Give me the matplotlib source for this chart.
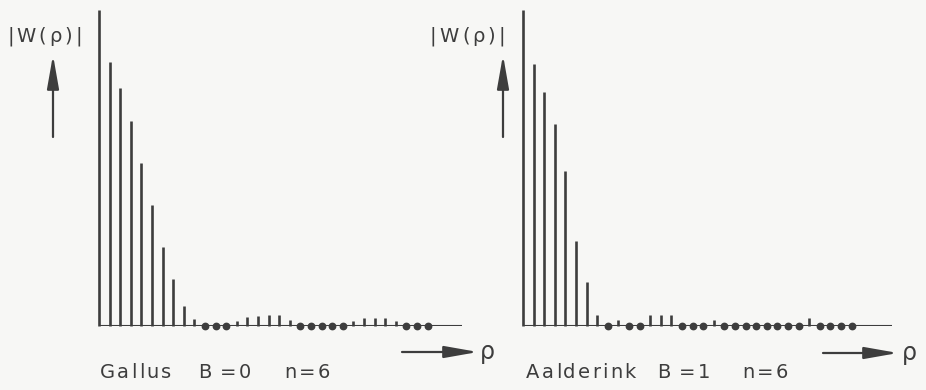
import matplotlib

matplotlib.use("Agg")
import matplotlib.pyplot as plt  # noqa: E402
import numpy as np  # noqa: E402

W_PX, H_PX = 926, 390
INK = "#3d3d3d"
PAPER = "#f7f7f5"

# |W(rho)| for rho = 0..31, normalised to W(0) = 1; zeros are shown as dots
gallus = [
    1.0, 0.835, 0.753, 0.649, 0.516, 0.383, 0.25, 0.149, 0.063, 0.022,
    0.0, 0.0, 0.0, 0.016, 0.028, 0.032, 0.035, 0.035, 0.019, 0.0,
    0.0, 0.0, 0.0, 0.0, 0.016, 0.025, 0.025, 0.025, 0.016, 0.0,
    0.0, 0.0,
]
aalderink = [
    1.0, 0.83, 0.74, 0.64, 0.49, 0.27, 0.14, 0.035, 0.0, 0.019,
    0.0, 0.0, 0.035, 0.035, 0.035, 0.0, 0.0, 0.0, 0.019, 0.0,
    0.0, 0.0, 0.0, 0.0, 0.0, 0.0, 0.0, 0.025, 0.0, 0.0,
    0.0, 0.0,
]
captions = [("Gallus", "B =0", "n=6"), ("Aalderink", "B =1", "n=6")]

STEP = 10.6  # pixels per lag
BASE_Y = 326  # baseline, pixels from top
TOP_Y = 10


def fx(px):
    return px / W_PX


def fy(py):
    return 1 - py / H_PX


def tracked(fig, x, y, s, size=14, gap=2.6):
    """Draw a string letter by letter with extra tracking (pixel coords)."""
    r = fig.canvas.get_renderer()
    for ch in s:
        if ch == " ":
            x += size * 0.42
            continue
        t = fig.text(fx(x), fy(y), ch, fontsize=size, color=INK,
                     family="DejaVu Sans", va="baseline", ha="left")
        x += t.get_window_extent(r).width + gap
    return x


def panel(fig, x0, x_end, values):
    width = x_end - x0
    ax = fig.add_axes([fx(x0), fy(BASE_Y), width / W_PX,
                       (BASE_Y - TOP_Y) / H_PX])
    ax.set_xlim(0, width / STEP)
    ax.set_ylim(0, 1)
    vals = np.asarray(values)
    k = np.arange(len(vals))
    nz = vals > 0
    ax.vlines(k[nz], 0, vals[nz], color=INK, lw=1.9, clip_on=False)
    ax.plot(k[~nz], vals[~nz], "o", color=INK, ms=4.6, clip_on=False)
    ax.axhline(0, color=INK, lw=1.5)
    for s in ax.spines.values():
        s.set_visible(False)
    ax.set_xticks([])
    ax.set_yticks([])
    ax.patch.set_alpha(0)
    return ax


def arrow(fig, x1, y1, x2, y2):
    fig.add_artist(matplotlib.patches.FancyArrowPatch(
        (fx(x1), fy(y1)), (fx(x2), fy(y2)), transform=fig.transFigure,
        arrowstyle="-|>,head_length=1.7,head_width=0.3", lw=1.6,
        color=INK, mutation_scale=12, shrinkA=0, shrinkB=0))


fig = plt.figure(figsize=(W_PX / 100, H_PX / 100), dpi=100)
fig.patch.set_facecolor(PAPER)

panel(fig, 99, 462, gallus)
panel(fig, 523, 892, aalderink)

# y-axis labels with upward arrows
for lx, ax_x in [(7, 53), (430, 503)]:
    tracked(fig, lx, 42, "|W(ρ)|", size=14, gap=3.0)
    arrow(fig, ax_x, 137, ax_x, 55)

# x-axis arrows with rho
for x1, x2, rx, y in [(402, 478, 480, 352), (823, 898, 902, 353)]:
    arrow(fig, x1, y, x2, y)
    fig.text(fx(rx), fy(y), "ρ", fontsize=17, color=INK,
             family="DejaVu Sans", va="center", ha="left")

# captions under each panel
for (name, b, n), (x_name, x_b, x_n) in zip(
        captions, [(100, 198, 284), (526, 657, 742)]):
    tracked(fig, x_name, 378, name, gap=2.2)
    tracked(fig, x_b, 378, b)
    tracked(fig, x_n, 378, n)

fig.savefig("out.png", dpi=100, facecolor=PAPER)
